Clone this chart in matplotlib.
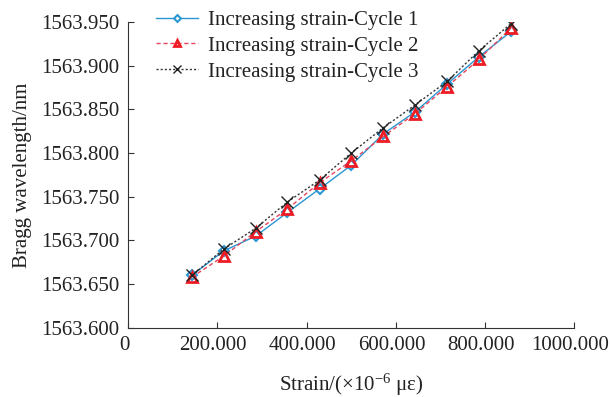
import matplotlib
matplotlib.use("Agg")
import matplotlib.pyplot as plt
from matplotlib.ticker import FuncFormatter, MultipleLocator
from matplotlib.transforms import ScaledTranslation

plt.rcParams['font.family'] = ['Liberation Serif', 'DejaVu Serif']
plt.rcParams['mathtext.fontset'] = 'custom'
plt.rcParams['mathtext.rm'] = 'Liberation Serif'
plt.rcParams['mathtext.it'] = 'Liberation Serif:italic'

# strain steps (x10^-6 ue) and Bragg wavelength (nm) per loading cycle
strain = [143, 214, 286, 357, 429, 500, 572, 643, 715, 786, 858]
cycle1 = [1563.660, 1563.688, 1563.705, 1563.732, 1563.759, 1563.786,
          1563.822, 1563.847, 1563.879, 1563.910, 1563.939]
cycle2 = [1563.658, 1563.682, 1563.710, 1563.736, 1563.766, 1563.791,
          1563.819, 1563.845, 1563.876, 1563.907, 1563.943]
cycle3 = [1563.660, 1563.690, 1563.714, 1563.744, 1563.769, 1563.800,
          1563.829, 1563.855, 1563.882, 1563.917, 1563.948]
labels = ["Increasing strain-Cycle 1", "Increasing strain-Cycle 2",
          "Increasing strain-Cycle 3"]

fs = 15

fig = plt.figure(figsize=(6.1, 3.97), dpi=100)
ax = fig.add_axes([0.2098, 0.174, 0.732, 0.771])

ax.plot(strain, cycle1, color="#2a96d2", lw=1.0, ls="-", marker="D",
        ms=5, mfc="white", mec="#2a96d2", mew=1.5, label=labels[0])
ax.plot(strain, cycle2, color="#e8445a", lw=1.0, ls=(0, (3, 2)), marker="^",
        ms=7, mfc="none", mec="#ee1c24", mew=2.0, label=labels[1])
ax.plot(strain, cycle3, color="#333333", lw=1.0, ls=(0, (1.5, 1.5)), marker="x",
        ms=9, mec="#222222", mew=1.0, label=labels[2])

ax.set_xlim(0, 1000)
ax.set_ylim(1563.600, 1563.950)
ax.xaxis.set_major_locator(MultipleLocator(200))
ax.yaxis.set_major_locator(MultipleLocator(0.05))
ax.xaxis.set_major_formatter(FuncFormatter(lambda v, p: "0" if v == 0 else f"{v:.3f}"))
ax.yaxis.set_major_formatter(FuncFormatter(lambda v, p: f"{v:.3f}"))

for side in ("top", "right"):
    ax.spines[side].set_visible(False)
for side in ("left", "bottom"):
    ax.spines[side].set_linewidth(0.8)
    ax.spines[side].set_color("#333333")
ax.tick_params(direction="in", length=4, width=0.8, labelsize=fs,
               colors="#333333", labelcolor="#222222", pad=6)

# nudge x tick labels slightly left so the last one stays inside the figure
shift = ScaledTranslation(-4 / 100, 0, fig.dpi_scale_trans)
for lbl in ax.get_xticklabels():
    lbl.set_transform(lbl.get_transform() + shift)

ax.set_xlabel("Strain/(\u00d710$^{-6}$ \u03bc\u03b5)", fontsize=fs, color="#222222", labelpad=12)
ax.set_ylabel("Bragg wavelength/nm", fontsize=fs, color="#222222", labelpad=7)

leg = ax.legend(loc="upper left", bbox_to_anchor=(0.045, 1.065), frameon=False,
                fontsize=fs, handlelength=2.0, handletextpad=0.5,
                labelspacing=0.3, borderaxespad=0, markerscale=0.7)
for t in leg.get_texts():
    t.set_color("#222222")

fig.savefig("out.png", dpi=100)
